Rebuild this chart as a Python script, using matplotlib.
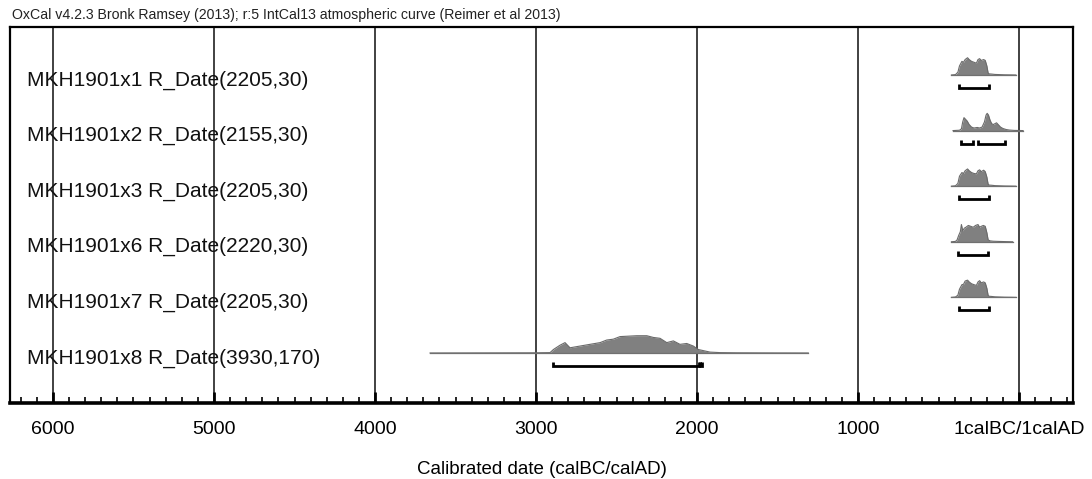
import matplotlib
matplotlib.use('Agg')
import matplotlib.pyplot as plt
import numpy as np
from matplotlib.transforms import blended_transform_factory

plt.rcParams['font.family'] = ['Liberation Sans', 'DejaVu Sans']

title = "OxCal v4.2.3 Bronk Ramsey (2013); r:5 IntCal13 atmospheric curve (Reimer et al 2013)"
xlabel = "Calibrated date (calBC/calAD)"
row_labels = ["MKH1901x1 R_Date(2205,30)",
              "MKH1901x2 R_Date(2155,30)",
              "MKH1901x3 R_Date(2205,30)",
              "MKH1901x6 R_Date(2220,30)",
              "MKH1901x7 R_Date(2205,30)",
              "MKH1901x8 R_Date(3930,170)"]
tick_years = [6000, 5000, 4000, 3000, 2000, 1000, 0]
tick_labels = ["6000", "5000", "4000", "3000", "2000", "1000", "1calBC/1calAD"]

# probability distributions (years calBC, negative = AD; relative density)
x1_years = [420, 395, 380, 370, 355, 345, 335, 320, 310, 295, 280, 265, 255, 245,
            235, 220, 210, 200, 192, 185, 170, 150, 120, 90, 50, 20]
x1_prob = [0, 0.02, 0.15, 0.5, 0.75, 0.7, 0.85, 0.95, 0.85, 0.75, 0.7, 0.65, 0.85, 0.9,
           0.8, 0.85, 0.8, 0.5, 0.1, 0.06, 0.05, 0.03, 0.02, 0.01, 0.005, 0]

x2_years = [410, 370, 358, 350, 342, 332, 322, 310, 295, 280, 260, 245, 230, 215, 205,
            198, 190, 180, 170, 160, 150, 140, 130, 115, 100, 80, 60, 30, 0, -25]
x2_prob = [0, 0.02, 0.1, 0.5, 0.75, 0.65, 0.55, 0.35, 0.2, 0.15, 0.18, 0.15, 0.2, 0.5, 0.9,
           1.0, 0.9, 0.6, 0.4, 0.35, 0.4, 0.45, 0.35, 0.2, 0.12, 0.06, 0.03, 0.01, 0.005, 0]

x3_years = x1_years
x3_prob = [0, 0.02, 0.15, 0.55, 0.75, 0.7, 0.85, 0.95, 0.85, 0.75, 0.7, 0.68, 0.85, 0.9,
           0.8, 0.88, 0.8, 0.5, 0.1, 0.06, 0.05, 0.03, 0.02, 0.01, 0.005, 0]

x6_years = [420, 395, 385, 375, 365, 358, 350, 340, 330, 315, 300, 285, 270, 255, 245,
            235, 222, 210, 200, 192, 180, 160, 130, 90, 40]
x6_prob = [0, 0.02, 0.1, 0.35, 0.55, 0.95, 0.6, 0.75, 0.8, 0.9, 0.85, 0.8, 0.9, 0.95, 0.8,
           0.85, 0.9, 0.85, 0.5, 0.1, 0.05, 0.03, 0.02, 0.01, 0]

x7_years = x1_years
x7_prob = [0, 0.02, 0.12, 0.45, 0.7, 0.72, 0.9, 0.95, 0.85, 0.75, 0.7, 0.66, 0.85, 0.92,
           0.8, 0.85, 0.8, 0.5, 0.1, 0.06, 0.05, 0.03, 0.02, 0.01, 0.005, 0]

x8_years = [3658, 3300, 3000, 2913, 2892, 2851, 2820, 2789, 2727, 2665, 2602, 2561, 2520,
            2478, 2374, 2312, 2271, 2230, 2188, 2147, 2106, 2064, 2023, 1992, 1919,
            1857, 1753, 1500, 1309]
x8_prob = [0, 0.005, 0.01, 0.02, 0.2, 0.45, 0.6, 0.3, 0.4, 0.5, 0.6, 0.75, 0.8,
           0.95, 1.0, 1.0, 0.9, 0.85, 0.6, 0.7, 0.5, 0.55, 0.4, 0.2, 0.05,
           0.02, 0.01, 0.003, 0]

# 95.4% ranges (calBC)
x1_ranges = [(373, 186)]
x2_ranges = [(360, 286), (255, 87)]
x3_ranges = [(373, 186)]
x6_ranges = [(379, 193)]
x7_ranges = [(373, 186)]
x8_ranges = [(2892, 1985), (1982, 1968)]

dists = [(x1_years, x1_prob, x1_ranges), (x2_years, x2_prob, x2_ranges),
         (x3_years, x3_prob, x3_ranges), (x6_years, x6_prob, x6_ranges),
         (x7_years, x7_prob, x7_ranges), (x8_years, x8_prob, x8_ranges)]

W, H = 1092, 479
fig = plt.figure(figsize=(W / 100, H / 100), dpi=100)
ax = fig.add_axes([10 / W, 76 / H, 1063 / W, 376 / H])
ax.set_xlim(-6267, 335)
ax.set_ylim(5.9, -0.863)

for yr in tick_years:
    ax.axvline(-yr, color='#333333', lw=1.3, zorder=1)

trans = blended_transform_factory(ax.transAxes, ax.transData)
for i, ((yrs, prob, ranges), lab) in enumerate(zip(dists, row_labels)):
    x = -np.array(yrs, dtype=float)
    p = np.array(prob, dtype=float)
    y = i - 0.31 * p / p.max()
    ax.fill_between(x, i, y, color='#808080', lw=0, zorder=2)
    ax.plot(x, y, color='#6a6a6a', lw=0.8, zorder=3)
    ax.plot([x.min(), x.max()], [i, i], color='#707070', lw=0.9, zorder=3)
    yb = i + 0.234
    for a, b in ranges:
        ax.plot([-a, -a, -b, -b], [yb - 0.07, yb, yb, yb - 0.07], color='black',
                lw=2.0, solid_joinstyle='miter', solid_capstyle='butt', zorder=4)
    ax.text(0.016, i + 0.09, lab, transform=trans, va='center', ha='left',
            fontsize=15, color='#111111', zorder=5)

ax.set_xticks([-t for t in tick_years])
ax.set_xticklabels(tick_labels)
ax.set_xticks(np.arange(-6200, 301, 100), minor=True)
ax.tick_params(axis='x', which='major', direction='in', length=8, width=2,
               pad=13, labelsize=14, colors='black')
ax.tick_params(axis='x', which='minor', direction='in', length=4, width=1.2)
ax.set_yticks([])
for s in ['left', 'right', 'top']:
    ax.spines[s].set_linewidth(1.6)
ax.spines['bottom'].set_linewidth(2.6)

fig.text(12 / W, 1 - 15 / H, title, fontsize=10.2, va='center', ha='left', color='#222222')
fig.text(541.5 / W, 1 - 470 / H, xlabel, ha='center', va='center', fontsize=13.5)

fig.savefig('out.png', dpi=100)
